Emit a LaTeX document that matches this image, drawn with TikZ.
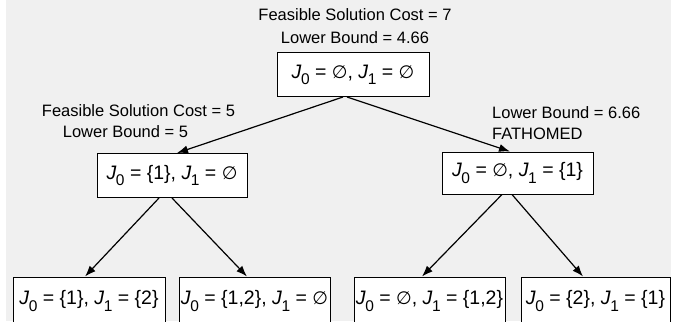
\documentclass[tikz,border=0pt]{standalone}
\usepackage{fontspec}
\setmainfont{Liberation Sans}
\newfontfamily\djv{DejaVu Sans}
\usetikzlibrary{arrows.meta}
\newcommand{\es}{{\djv\fontsize{18}{18}\selectfont ∅}}
\newcommand{\Jv}[1]{\textit{J}\kern-0.5pt\raisebox{-0.32em}{\fontsize{15.5}{15.5}\selectfont #1}}
\begin{document}
\begin{tikzpicture}[x=1pt,y=-1pt,
  setbox/.style={draw=black,line width=1pt,fill=white,inner sep=0pt,
    font=\fontsize{19.5}{22}\selectfont},
  lbl/.style={inner sep=0pt,font=\fontsize{16.5}{19}\selectfont},
  arr/.style={line width=1.2pt,-{Latex[length=11pt,width=8pt]}}]
\useasboundingbox (0,0) rectangle (674,321);
\fill[white] (0,0) rectangle (674,321);
\fill[black!6] (6,0) rectangle (671,321);
% labels
\node[lbl] (t1) at (355,15) {Feasible Solution Cost = 7};
\node[lbl] (t2) at (355,38) {Lower Bound = 4.66};
\node[lbl] (l1) at (138.5,111) {Feasible Solution Cost = 5};
\node[lbl] (l2) at (125.5,132) {Lower Bound = 5};
\node[lbl,anchor=west] (r1) at (492,113) {Lower Bound = 6.66};
\node[lbl,anchor=west] (r2) at (492,134) {FATHOMED};
% boxes
\node[setbox,minimum width=152pt,minimum height=44pt] (root) at (353,74.5) {\Jv{0} = \es, \Jv{1} = \es};
\node[setbox,minimum width=150pt,minimum height=44pt] (L) at (172,175.5) {\Jv{0} = \{1\}, \Jv{1} = \es};
\node[setbox,minimum width=151pt,minimum height=42pt] (R) at (517.5,173) {\Jv{0} = \es, \Jv{1} = \{1\}};
\node[setbox,minimum width=152pt,minimum height=48pt] (B1) at (89,301) {\Jv{0} = \{1\}, \Jv{1} = \{2\}};
\node[setbox,minimum width=151pt,minimum height=48pt] (B2) at (254.5,301) {\Jv{0} = \{1,2\}, \Jv{1} = \es};
\node[setbox,minimum width=151pt,minimum height=48pt] (B3) at (429.5,301) {\Jv{0} = \es, \Jv{1} = \{1,2\}};
\node[setbox,minimum width=149pt,minimum height=48pt] (B4) at (595.5,301) {\Jv{0} = \{2\}, \Jv{1} = \{1\}};
% arrows
\draw[arr] ([xshift=-10pt]root.south) -- ([xshift=5pt]L.north);
\draw[arr] ([xshift=-6pt]root.south) -- ([xshift=-7.5pt]R.north);
\draw[arr] ([xshift=-13pt]L.south) -- ([xshift=-4pt]B1.north);
\draw[arr] (L.south) -- ([xshift=-7.5pt]B2.north);
\draw[arr] ([xshift=-15.5pt]R.south) -- ([xshift=-7.5pt]B3.north);
\draw[arr] ([xshift=-5.5pt]R.south) -- ([xshift=-12.5pt]B4.north);
\end{tikzpicture}
\end{document}
